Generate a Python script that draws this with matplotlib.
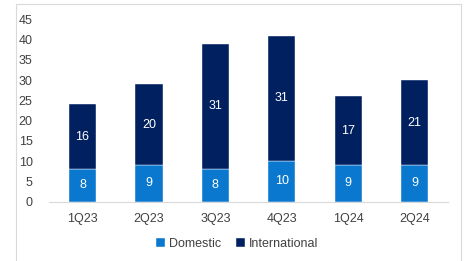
import matplotlib
matplotlib.use("Agg")
import matplotlib.pyplot as plt
from matplotlib.patches import Rectangle

categories = ["1Q23", "2Q23", "3Q23", "4Q23", "1Q24", "2Q24"]
domestic = [8, 9, 8, 10, 9, 9]
international = [16, 20, 31, 31, 17, 21]
yticks = [0, 5, 10, 15, 20, 25, 30, 35, 40, 45]

c_dom = "#0B78D0"
c_int = "#002060"
txt = "#404040"
font = "Liberation Sans"

fig = plt.figure(figsize=(4.7, 2.61), dpi=100)
# outer chart border
fig.patches.append(Rectangle((16/470, -0.01), (461-16)/470, 1 - 4/261 + 0.01,
                             transform=fig.transFigure, fill=False,
                             edgecolor="#D9D9D9", linewidth=0.8))
ax = fig.add_axes([49.3/470, 1-201.7/261, (448-49.3)/470, (201.7-19.3)/261])

x = list(range(len(categories)))
w = 0.41
ax.bar(x, domestic, width=w, color=c_dom, label="Domestic", edgecolor="white", linewidth=0.3)
ax.bar(x, international, width=w, bottom=domestic, color=c_int, label="International",
       edgecolor="white", linewidth=0.3)

for i in x:
    ax.text(i, domestic[i] / 2, str(domestic[i]), ha="center", va="center",
            color="white", fontsize=9, family=font)
    ax.text(i, domestic[i] + international[i] / 2, str(international[i]), ha="center",
            va="center", color="white", fontsize=9, family=font)

ax.set_xlim(-0.5, len(categories) - 0.5)
ax.set_ylim(0, 45)
ax.set_yticks(yticks)
ax.set_xticks(x)
ax.set_xticklabels(categories)
for lab in ax.get_xticklabels() + ax.get_yticklabels():
    lab.set_family(font)
    lab.set_fontsize(9)
    lab.set_color(txt)
ax.tick_params(axis="both", length=0)
ax.tick_params(axis="x", pad=8)
ax.tick_params(axis="y", pad=12)
for s in ["top", "right", "left"]:
    ax.spines[s].set_visible(False)
ax.spines["bottom"].set_color("#D9D9D9")
ax.spines["bottom"].set_linewidth(0.8)

leg = fig.legend(loc="center", bbox_to_anchor=(237/470, 1-244/261), ncol=2, frameon=False,
                 prop={"family": font, "size": 9}, handlelength=0.7, handleheight=0.7,
                 handletextpad=0.3, columnspacing=1.2)
for t in leg.get_texts():
    t.set_color(txt)

fig.savefig("out.png", dpi=100)
